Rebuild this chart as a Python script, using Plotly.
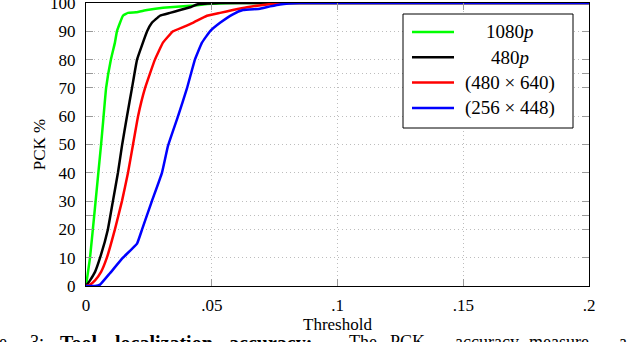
import plotly.graph_objects as go

# threshold (normalised distance) vs PCK %
t_1080p = [0, 0.0016, 0.0036, 0.006, 0.0068, 0.008, 0.0099, 0.0115, 0.0123, 0.0147,
           0.0167, 0.0199, 0.0243, 0.0306, 0.0414, 0.05, 0.061, 0.2]
pck_1080p = [0, 10, 28, 50, 58, 70, 80, 86, 90, 95.5,
             96.5, 96.7, 97.5, 98.3, 99, 99.7, 100, 100]

t_480p = [0, 0.0016, 0.0036, 0.0056, 0.0087, 0.0107, 0.0127, 0.0143, 0.0163, 0.0183,
          0.0203, 0.0243, 0.0262, 0.0294, 0.0334, 0.0374, 0.0414, 0.0441, 0.0533, 0.2]
pck_480p = [0, 2, 5, 10, 20, 30, 40, 49.5, 60, 70,
            80, 90, 93, 95.5, 96.5, 97.5, 98.5, 99.5, 100, 100]

t_480x640 = [0, 0.0016, 0.0036, 0.006, 0.0083, 0.0115, 0.0143, 0.0167, 0.0187, 0.0207,
             0.0235, 0.0274, 0.0306, 0.0346, 0.0386, 0.0425, 0.0481, 0.0533, 0.0584,
             0.064, 0.072, 0.0811, 0.2]
pck_480x640 = [0, 0.5, 2, 5, 10, 20, 30, 40, 50, 60,
               70, 80, 86, 90, 91.5, 93, 95.5, 96.5, 97.5,
               98.5, 99.5, 100, 100]

t_256x448 = [0, 0.0036, 0.0056, 0.0095, 0.0147, 0.0203, 0.0223, 0.0262, 0.0302, 0.0326,
             0.0366, 0.0402, 0.0433, 0.0461, 0.0493, 0.0533, 0.0584, 0.0624, 0.0692,
             0.0732, 0.0771, 0.0851, 0.2]
pck_256x448 = [0, 0, 0.5, 4.5, 10, 15, 20, 30, 40, 49.5,
               60, 70, 80, 86, 90, 93, 96, 97.5, 98,
               98.8, 99.5, 100, 100]

series_names = ["1080<i>p</i>", "480<i>p</i>", "(480 × 640)", "(256 × 448)"]
series_x = [t_1080p, t_480p, t_480x640, t_256x448]
series_y = [pck_1080p, pck_480p, pck_480x640, pck_256x448]
series_colors = ["#00ff00", "black", "red", "blue"]

x_ticks = [0, 0.05, 0.1, 0.15, 0.2]
x_labels = ["0", ".05", ".1", ".15", ".2"]
y_ticks = [0, 10, 20, 25, 30, 40, 50, 60, 70, 75, 80, 90, 100]
y_labels = ["0", "10", "20", "", "30", "40", "50", "60", "70", "", "80", "90", "100"]

# caption of the paper figure, cut by the bottom edge of the crop
caption_words = ["Figure", "3:", "<b>Tool</b>", "<b>localization</b>", "<b>accuracy:</b>",
                 "The", "PCK", "accuracy", "measure", "a"]

SERIF = "Liberation Serif"
W, H = 630, 342
L, R, T, B = 86, 41, 3, 56
PW, PH = W - L - R, H - T - B


def px(x):
    return (x - L) / PW


def py(y):
    return (H - B - y) / PH


fig = go.Figure()
for name, xs, ys, col in zip(series_names, series_x, series_y, series_colors):
    fig.add_trace(go.Scatter(x=xs, y=ys, mode="lines", name=name, showlegend=False,
                             line=dict(color=col, width=2.5, shape="spline", smoothing=0.3)))

axis_common = dict(
    showline=True, linecolor="black", linewidth=1, mirror="allticks",
    ticks="inside", ticklen=7, tickcolor="#999999", tickwidth=1,
    showgrid=True, gridcolor="#bdbdbd", griddash="1px,3px", gridwidth=1,
    zeroline=False, automargin=False, ticklabeloverflow="allow",
    tickfont=dict(family=SERIF, size=17, color="black"),
)

fig.update_layout(
    width=W, height=H,
    margin=dict(l=L, r=R, t=T, b=B),
    plot_bgcolor="white", paper_bgcolor="white",
    font=dict(family=SERIF, size=17, color="black"),
    xaxis=dict(range=[0, 0.2], tickvals=x_ticks, ticktext=x_labels, ticklabelstandoff=4,
               title=dict(text="Threshold", standoff=2, font=dict(family=SERIF, size=17)),
               **axis_common),
    yaxis=dict(range=[0, 100], tickvals=y_ticks, ticktext=y_labels, ticklabelstandoff=6,
               title=dict(text="PCK %", standoff=0, font=dict(family=SERIF, size=17)),
               **axis_common),
    showlegend=False,
)

# legend box drawn by hand (centered labels, long line samples)
fig.add_shape(type="rect", xref="paper", yref="paper",
              x0=px(403), x1=px(573), y0=py(128), y1=py(14),
              line=dict(color="black", width=1), fillcolor="white", layer="above")
for i, (name, col) in enumerate(zip(series_names, series_colors)):
    yc = 32 + i * 25.3
    fig.add_shape(type="line", xref="paper", yref="paper",
                  x0=px(412), x1=px(454), y0=py(yc), y1=py(yc),
                  line=dict(color=col, width=2.5), layer="above")
    fig.add_annotation(text=name, xref="paper", yref="paper", x=px(510), y=py(yc),
                       xanchor="center", yanchor="middle", showarrow=False,
                       font=dict(family=SERIF, size=19, color="black"))

caption_x = [9, 28, 58, 113, 227, 347, 388, 453, 527, 617]
for word, xw in zip(caption_words, caption_x):
    anchor = "right" if word == "Figure" else "left"
    size = 20 if word.startswith("<b>") else 18
    fig.add_annotation(text=word, xref="paper", yref="paper", x=px(xw), y=py(330),
                       xanchor=anchor, yanchor="top", showarrow=False,
                       font=dict(family=SERIF, size=size, color="black"))

fig.write_html("out.html", config={"displayModeBar": False},
               post_script="document.body.style.margin='0';")
